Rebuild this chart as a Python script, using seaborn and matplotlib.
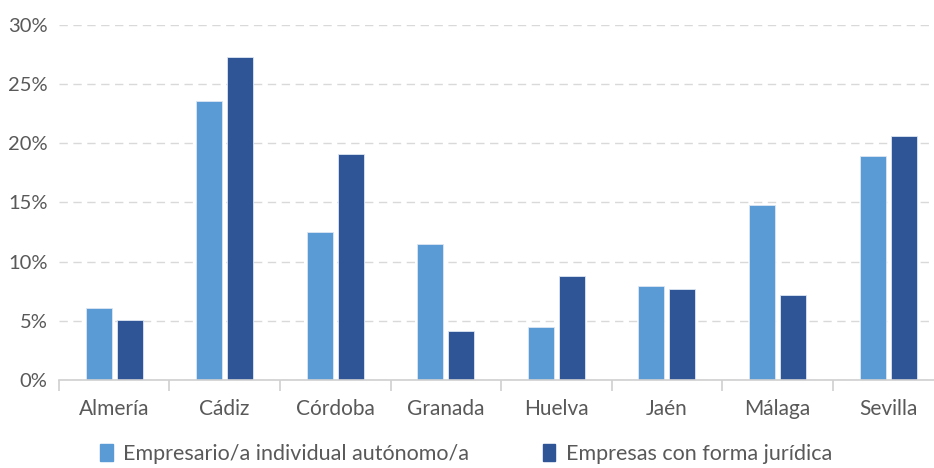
import pandas as pd
import matplotlib.pyplot as plt
import seaborn as sns
from matplotlib.ticker import PercentFormatter, FixedLocator

# Data
provincias = ['Almería', 'Cádiz', 'Córdoba', 'Granada', 'Huelva', 'Jaén', 'Málaga', 'Sevilla']
autonomo = [6.1, 23.6, 12.5, 11.5, 4.5, 7.9, 14.8, 18.9]
juridica = [5.1, 27.3, 19.1, 4.1, 8.8, 7.7, 7.2, 20.6]
series = ['Empresario/a individual autónomo/a', 'Empresas con forma jurídica']

df = pd.DataFrame({
    'provincia': provincias * 2,
    'valor': autonomo + juridica,
    'tipo': [series[0]] * len(provincias) + [series[1]] * len(provincias),
})

colors = {series[0]: '#5B9BD5', series[1]: '#2F5597'}

sns.set_style('white')
plt.rcParams['font.family'] = ['Lato', 'DejaVu Sans']

fig = plt.figure(figsize=(9.34, 4.68), dpi=100)
ax = fig.add_axes([0.063, 0.188, 0.947, 0.759])

sns.barplot(data=df, x='provincia', y='valor', hue='tipo', palette=colors,
            saturation=1, width=0.56, gap=0.16, edgecolor='#dce6f2', linewidth=0.6,
            legend=False, ax=ax)

ax.set_ylim(0, 30)
ax.set_xlim(-0.5, 7.5)
ax.set_yticks(range(0, 31, 5))
ax.yaxis.set_major_formatter(PercentFormatter(decimals=0))
ax.grid(axis='y', color='#d9d9d9', linestyle=(0, (6, 4)), linewidth=1)
ax.set_axisbelow(True)
for s in ['left', 'right', 'top']:
    ax.spines[s].set_visible(False)
ax.spines['bottom'].set_color('#d0d0d0')
ax.spines['bottom'].set_linewidth(1.2)

ax.set_xlabel('')
ax.set_ylabel('')
ax.tick_params(axis='x', which='major', length=0, labelsize=15,
               labelcolor='#595959', pad=14)
ax.tick_params(axis='y', which='major', length=0, labelsize=14.5,
               labelcolor='#595959', pad=8)
ax.xaxis.set_minor_locator(FixedLocator([i - 0.5 for i in range(len(provincias) + 1)]))
ax.tick_params(axis='x', which='minor', length=8, width=1.2, color='#d0d0d0', bottom=True)

handles = [plt.Rectangle((0, 0), 1, 1, color=colors[s]) for s in series]
fig.legend(handles, series, loc='center', bbox_to_anchor=(0.499, 0.03), ncol=2,
           frameon=False, fontsize=15.5, labelcolor='#595959',
           handlelength=0.6, handleheight=0.8, handletextpad=0.5, columnspacing=3.4,
           borderpad=0.1)

fig.savefig('out.png', dpi=100)
